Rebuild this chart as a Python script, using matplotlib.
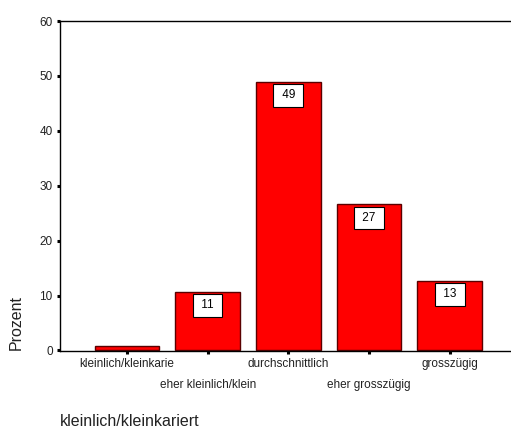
import matplotlib
matplotlib.use("Agg")
import matplotlib.pyplot as plt

plt.rcParams['font.family'] = ['Liberation Sans', 'DejaVu Sans']

# Antwortkategorien und Prozentwerte
categories = ["kleinlich/kleinkarie", "eher kleinlich/klein", "durchschnittlich",
              "eher grosszügig", "grosszügig"]
percent = [0.9, 10.7, 48.9, 26.6, 12.7]
yticks = [0, 10, 20, 30, 40, 50, 60]

fig = plt.figure(figsize=(5.11, 4.32), dpi=100)
ax = fig.add_axes([60 / 511, 1 - 351 / 432, 1 - 60 / 511, (351 - 21) / 432])

x = list(range(len(categories)))
ax.bar(x, percent, width=0.8, color="#ff0000", edgecolor="#5a0000", linewidth=1.0, zorder=2)

# Wertelabels in weissen Kästchen unterhalb der Balkenoberkante
pad = 0.45
fs_val = 8.5
for xi, v in zip(x, percent):
    if v < 5:
        continue
    ax.annotate(f" {v:.0f} ", (xi, v), xytext=(0, -(1.6 + pad * fs_val)),
                textcoords="offset points",
                ha="center", va="top", fontsize=fs_val, color="black", zorder=3,
                bbox=dict(boxstyle=f"square,pad={pad}", fc="white", ec="black", lw=0.8))

ax.set_xlim(-0.83, 4.76)
ax.set_ylim(-0.1, 60)
ax.set_yticks(yticks)
ax.set_yticklabels([str(t) for t in yticks], fontsize=8.5, color="#222222")

# Kategorienbeschriftungen abwechselnd auf zwei Zeilen
ax.set_xticks(x)
ax.set_xticklabels(categories, fontsize=8.5, color="#222222")

ax.tick_params(axis="y", direction="out", length=2.2, width=2.2, pad=3, color="black")
ax.tick_params(axis="x", direction="out", length=2.2, width=2.2, pad=3, color="black")
for i, tick in enumerate(ax.xaxis.get_major_ticks()):
    if i % 2 == 1:
        tick.set_pad(18)

ax.spines["right"].set_visible(False)
for s in ["left", "top", "bottom"]:
    ax.spines[s].set_linewidth(1.0)
    ax.spines[s].set_color("black")

fig.text(16 / 511, 1 - 322 / 432, "Prozent", rotation=90, ha="center", va="center",
         fontsize=11.5, color="#222222")
fig.text(60 / 511, 1 - 422 / 432, "kleinlich/kleinkariert", ha="left", va="center",
         fontsize=11.5, color="#222222")

fig.savefig("out.png", dpi=100)
